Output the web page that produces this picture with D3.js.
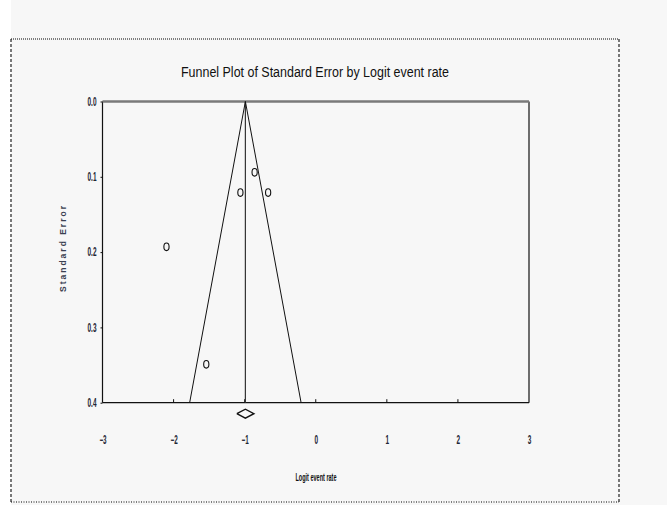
<!DOCTYPE html>
<html>
<head>
<meta charset="utf-8">
<script src="https://cdn.jsdelivr.net/npm/d3@7"></script>
<style>
  html, body { margin: 0; padding: 0; background: #f7f7f7; }
  svg { display: block; }
  text { font-family: "Liberation Sans Narrow", "Arial Narrow", "Liberation Sans", Arial, sans-serif; }
</style>
</head>
<body>
<svg id="chart" width="667" height="505"></svg>
<script>
// Study estimates: logit event rate and its standard error
const logitRate = [-0.86, -1.06, -0.67, -2.10, -1.54];
const stdError  = [0.094, 0.121, 0.121, 0.193, 0.349];

// Pooled estimate and its confidence interval (diamond)
const pooled = -0.99;
const pooledLow = -1.11;
const pooledHigh = -0.87;

const xTicks = [-3, -2, -1, 0, 1, 2, 3];
const yTicks = [0.0, 0.1, 0.2, 0.3, 0.4];
const seMax = 0.4;

const svg = d3.select("#chart");

// white strip at the left edge and frame of the figure
svg.append("rect").attr("x", 0).attr("y", 0).attr("width", 11).attr("height", 505).attr("fill", "#ffffff");
const frame = { x0: 11, y0: 39, x1: 619, y1: 502 };
svg.append("line").attr("x1", frame.x0).attr("y1", frame.y0).attr("x2", frame.x1).attr("y2", frame.y0)
  .attr("stroke", "#555").attr("stroke-width", 1.3).attr("stroke-dasharray", "1,1");
svg.append("line").attr("x1", frame.x0).attr("y1", frame.y1).attr("x2", frame.x1).attr("y2", frame.y1)
  .attr("stroke", "#555").attr("stroke-width", 1.3).attr("stroke-dasharray", "1,1.5");
svg.append("line").attr("x1", frame.x0).attr("y1", frame.y0).attr("x2", frame.x0).attr("y2", frame.y1)
  .attr("stroke", "#222").attr("stroke-width", 1.2).attr("stroke-dasharray", "3,2");
svg.append("line").attr("x1", frame.x1).attr("y1", frame.y0).attr("x2", frame.x1).attr("y2", frame.y1)
  .attr("stroke", "#222").attr("stroke-width", 1.2).attr("stroke-dasharray", "3,2");

const x = d3.scaleLinear().domain([-3, 3]).range([102.5, 529]);
const y = d3.scaleLinear().domain([0, seMax]).range([101.5, 402.7]);

// plot box
svg.append("line").attr("x1", x(-3)).attr("x2", x(-3)).attr("y1", y(0)).attr("y2", y(seMax))
  .attr("stroke", "#111").attr("stroke-width", 1.2);
svg.append("line").attr("x1", x(3)).attr("x2", x(3)).attr("y1", y(0)).attr("y2", y(seMax))
  .attr("stroke", "#111").attr("stroke-width", 1.2);
svg.append("line").attr("x1", x(-3)).attr("x2", x(3)).attr("y1", y(seMax)).attr("y2", y(seMax))
  .attr("stroke", "#111").attr("stroke-width", 1.2);
svg.append("line").attr("x1", x(-3)).attr("x2", x(3)).attr("y1", y(0)).attr("y2", y(0))
  .attr("stroke", "#7a7a7a").attr("stroke-width", 2.5);

// x axis ticks (inside) and labels
const xAxis = d3.axisBottom(x).tickValues(xTicks).tickSize(0).tickFormat(d3.format("d"));
const gx = svg.append("g").attr("transform", `translate(0,${y(seMax)})`);
gx.selectAll("line.tk").data(xTicks.filter(d => d > -3 && d < 3)).join("line")
  .attr("x1", d => x(d)).attr("x2", d => x(d)).attr("y1", 0).attr("y2", -3.5)
  .attr("stroke", "#111").attr("stroke-width", 1);
const gxl = svg.append("g").attr("transform", `translate(0,${y(seMax) + 34})`).call(xAxis);
gxl.select(".domain").remove();
gxl.selectAll("text").attr("font-size", 12).attr("font-weight", "bold").attr("fill", "#1f2735").attr("dy", "0.35em")
  .attr("textLength", function () { return this.textContent.length * 3.6; })
  .attr("lengthAdjust", "spacingAndGlyphs");

// y axis ticks (outside) and labels
const yAxis = d3.axisLeft(y).tickValues(yTicks).tickSize(2).tickFormat(d3.format(".1f"));
const gy = svg.append("g").attr("transform", `translate(${x(-3)},0)`).call(yAxis);
gy.select(".domain").remove();
gy.selectAll("line").attr("stroke", "#111");
gy.selectAll("text").attr("font-size", 12).attr("font-weight", "bold").attr("fill", "#1f2735").attr("x", -6)
  .attr("textLength", 9).attr("lengthAdjust", "spacingAndGlyphs");

// pooled estimate vertical line
svg.append("line").attr("x1", x(pooled)).attr("x2", x(pooled)).attr("y1", y(0)).attr("y2", y(seMax))
  .attr("stroke", "#333").attr("stroke-width", 1.2);

// 95% funnel limits
const funnel = [
  [pooled - 1.96 * seMax, seMax],
  [pooled, 0],
  [pooled + 1.96 * seMax, seMax]
];
svg.append("path")
  .attr("d", d3.line().x(d => x(d[0])).y(d => y(d[1]))(funnel))
  .attr("fill", "none").attr("stroke", "#111").attr("stroke-width", 1);

// study points
svg.append("g").selectAll("ellipse").data(logitRate).join("ellipse")
  .attr("cx", d => x(d)).attr("cy", (d, i) => y(stdError[i]))
  .attr("rx", 2.6).attr("ry", 3.8)
  .attr("fill", "none").attr("stroke", "#111").attr("stroke-width", 1.1);

// pooled diamond below the axis
const dy = y(seMax) + 11;
const diamond = [[pooledLow, dy], [pooled, dy - 4.5], [pooledHigh, dy], [pooled, dy + 4.5], [pooledLow, dy]];
svg.append("path")
  .attr("d", d3.line().x(d => x(d[0])).y(d => d[1])(diamond))
  .attr("fill", "none").attr("stroke", "#111").attr("stroke-width", 1.4);

// titles
svg.append("text").attr("x", 315).attr("y", 77).attr("text-anchor", "middle")
  .attr("font-size", 14).attr("fill", "#111")
  .attr("textLength", 268).attr("lengthAdjust", "spacingAndGlyphs")
  .text("Funnel Plot of Standard Error by Logit event rate");

svg.append("text").attr("x", 316).attr("y", 481).attr("text-anchor", "middle")
  .attr("font-size", 11.5).attr("font-weight", "bold").attr("fill", "#111")
  .attr("textLength", 41).attr("lengthAdjust", "spacingAndGlyphs")
  .text("Logit event rate");

svg.append("text").attr("transform", "translate(66,249) rotate(-90)").attr("text-anchor", "middle")
  .attr("font-size", 8.5).attr("font-weight", "bold").attr("fill", "#3a4050")
  .attr("textLength", 86).attr("lengthAdjust", "spacing")
  .text("Standard Error");
</script>
</body>
</html>
